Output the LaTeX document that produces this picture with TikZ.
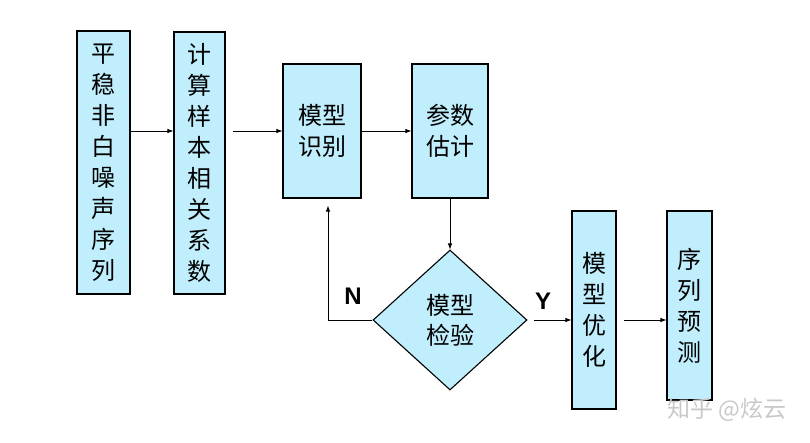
\documentclass[tikz,border=0pt]{standalone}
\usepackage{fontspec}
\setmainfont{Liberation Sans}
\newfontfamily\cjk{Noto Sans CJK SC}
\usetikzlibrary{shapes.geometric,arrows.meta}
\definecolor{boxfill}{RGB}{192,238,252}
\definecolor{wm}{RGB}{200,200,200}
\tikzset{
  stepbox/.style={draw=black,line width=1.1pt,fill=boxfill,inner sep=0pt,align=center,
    font=\cjk\fontsize{24}{31}\selectfont},
  checkbox/.style={draw=black,line width=1.1pt,fill=boxfill,diamond,inner sep=0pt,align=center,
    minimum width=154pt,minimum height=140pt,font=\cjk\fontsize{24}{30}\selectfont},
  conn/.style={draw=black,line width=0.8pt,-{Latex[length=6pt,width=4.5pt]}},
  yn/.style={font=\bfseries\fontsize{24}{24}\selectfont},
}
\begin{document}
\begin{tikzpicture}[x=1pt,y=-1pt]
\useasboundingbox (0,0) rectangle (810,442);
\node[stepbox,minimum width=53pt,minimum height=263pt] (b1) at (103.5,162.5) {平\\稳\\非\\白\\噪\\声\\序\\列};
\node[stepbox,minimum width=51pt,minimum height=262pt] (b2) at (199.5,163) {计\\算\\样\\本\\相\\关\\系\\数};
\node[stepbox,minimum width=78pt,minimum height=134pt] (b3) at (322,131) {模型\\识别};
\node[stepbox,minimum width=76pt,minimum height=134pt] (b4) at (450,131) {参数\\估计};
\node[checkbox] (d) at (450,320) {模型\\检验};
\node[stepbox,minimum width=44pt,minimum height=198pt] (b5) at (594,310) {模\\型\\优\\化};
\node[stepbox,minimum width=45pt,minimum height=189pt] (b6) at (689.5,305.5) {序\\列\\预\\测};
\node[yn] (n) at (353,296) {N};
\node[yn] (y) at (543,301) {Y};
\node[font=\cjk\fontsize{23}{23}\selectfont,text=wm] (w) at (727,410) {知乎 @炫云};
\draw[conn] (b1.east |- b3.west) -- (b2.west |- b3.west);
\draw[conn,shorten <=7pt] (b2.east |- b3.west) -- (b3.west);
\draw[conn] (b3.east) -- (b4.west);
\draw[conn] (b4.south) -- (d.north);
\draw[conn,shorten >=7pt] (d.west) -| ([xshift=6pt]b3.south);
\draw[conn,shorten <=6pt] (d.east) -- (d.east -| b5.west);
\draw[conn,shorten <=7pt] (b5.east |- d.east) -- (b6.west |- d.east);
\end{tikzpicture}
\end{document}
